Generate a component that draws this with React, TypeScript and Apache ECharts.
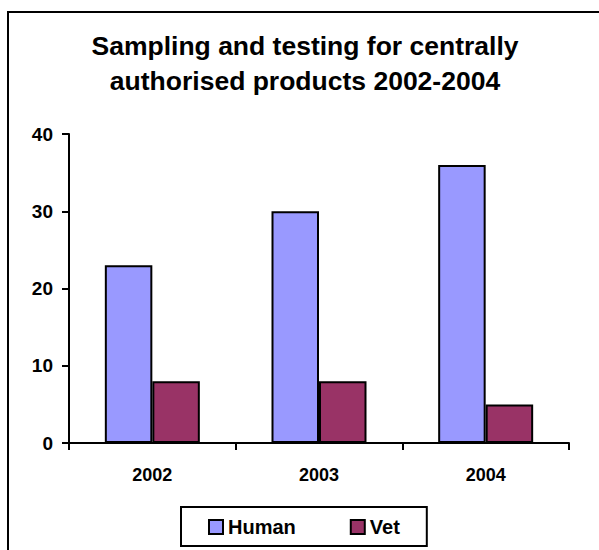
import React, { useEffect, useRef } from "react";
import * as echarts from "echarts";

const categories = ["2002", "2003", "2004"];
const humanValues = [23, 30, 36];
const vetValues = [8, 8, 5];
const yTicks = { min: 0, max: 40, interval: 10 };
const titleLines = ["Sampling and testing for centrally", "authorised products 2002-2004"];

const FONT = "'Liberation Sans', Arial, Helvetica, sans-serif";

export default function App() {
  const ref = useRef<HTMLDivElement>(null);
  useEffect(() => {
    if (!ref.current) return;
    const chart = echarts.init(ref.current, undefined, { renderer: "svg" });
    chart.setOption({
      animation: false,
      backgroundColor: "#ffffff",
      title: {
        text: titleLines.join("\n"),
        left: 305,
        textAlign: "center",
        top: 28,
        padding: 0,
        textStyle: {
          fontFamily: FONT,
          fontWeight: "bold",
          fontSize: 26.5,
          lineHeight: 35,
          color: "#000",
        },
      },
      graphic: [
        {
          type: "rect",
          shape: { x: 8, y: 12, width: 700, height: 700 },
          style: { fill: "none", stroke: "#000", lineWidth: 2 },
          silent: true,
        },
      ],
      legend: {
        left: 181,
        top: 507,
        padding: [10, 27, 9, 27],
        itemGap: 54,
        itemWidth: 14,
        itemHeight: 14,
        borderColor: "#000",
        borderWidth: 2,
        icon: "rect",
        textStyle: {
          fontFamily: FONT,
          fontWeight: "bold",
          fontSize: 20,
          color: "#000",
        },
        data: ["Human", "Vet"],
      },
      grid: { left: 69, top: 134, right: 30, bottom: 107, containLabel: false },
      xAxis: {
        type: "category",
        data: categories,
        boundaryGap: true,
        axisLine: { lineStyle: { color: "#000", width: 2 } },
        axisTick: { show: true, length: 7, lineStyle: { color: "#000", width: 2 } },
        axisLabel: {
          fontFamily: FONT,
          fontWeight: "bold",
          fontSize: 18,
          color: "#000",
          margin: 23,
        },
        splitLine: { show: false },
      },
      yAxis: {
        type: "value",
        min: yTicks.min,
        max: yTicks.max,
        interval: yTicks.interval,
        axisLine: { show: true, lineStyle: { color: "#000", width: 2 } },
        axisTick: { show: true, length: 7, lineStyle: { color: "#000", width: 2 } },
        axisLabel: {
          fontFamily: FONT,
          fontWeight: "bold",
          fontSize: 19,
          color: "#000",
          margin: 16,
        },
        splitLine: { show: false },
      },
      series: [
        {
          name: "Human",
          type: "bar",
          data: humanValues,
          barGap: "0%",
          barCategoryGap: "43%",
          itemStyle: { color: "#9999FF", borderColor: "#000", borderWidth: 2 },
        },
        {
          name: "Vet",
          type: "bar",
          data: vetValues,
          barGap: "0%",
          barCategoryGap: "43%",
          itemStyle: { color: "#993366", borderColor: "#000", borderWidth: 2 },
        },
      ],
    });
    return () => chart.dispose();
  }, []);
  return (
    <div
      ref={ref}
      style={{ position: "fixed", left: 0, top: 0, width: 599, height: 550 }}
    />
  );
}
